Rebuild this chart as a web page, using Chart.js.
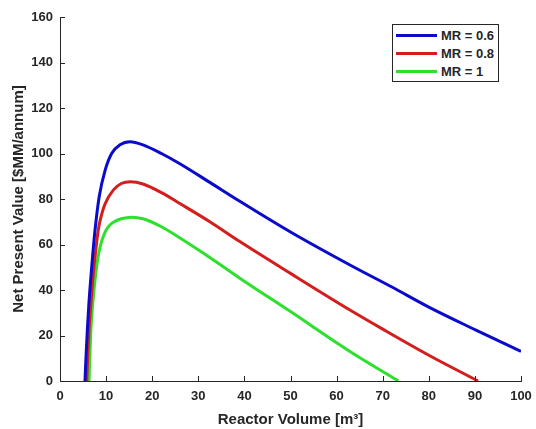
<!DOCTYPE html>
<html>
<head>
<meta charset="utf-8">
<script src="https://cdn.jsdelivr.net/npm/chart.js@4/dist/chart.umd.min.js"></script>
<style>
  html, body { margin: 0; padding: 0; background: #fff; }
  #wrap { position: relative; width: 536px; height: 429px; }
  #legend {
    position: absolute; left: 392px; top: 24px; width: 107px; height: 58px;
    border: 1px solid #262626; background: #fff;
    font: bold 13px "Liberation Sans", Arial, sans-serif; color: #262626;
    box-sizing: border-box; padding-top: 1px;
  }
  .item { display: flex; align-items: center; height: 18.3px; }
  .swatch { width: 41px; height: 3px; margin: 0 4px 0 3px; }
</style>
</head>
<body>
<div id="wrap">
  <canvas id="chart" width="536" height="429"></canvas>
  <div id="legend"></div>
</div>
<script>
const labels = ['MR = 0.6', 'MR = 0.8', 'MR = 1'];
const colors = ['#0a0acc', '#d41e1e', '#2ee02e'];

const blueX = [5.42, 5.65, 5.93, 6.25, 6.65, 7.1, 7.6, 8.5, 9.8, 11.2, 13, 15.2, 18, 22, 26, 32.5, 39, 50, 62.9, 72, 80, 90, 100];
const blueY = [0, 11, 22.4, 33.5, 44.4, 55.5, 66.4, 81, 92.7, 100, 103.8, 105.2, 103.8, 100, 95.5, 87.3, 79, 65.5, 51, 41.3, 32.5, 22.6, 13];

const redX = [5.8, 6.03, 6.3, 6.68, 7.1, 7.65, 8.3, 9, 9.8, 11.6, 13.3, 15.3, 18, 22, 26, 32.5, 39, 50, 62.9, 70, 80.3, 90.7];
const redY = [0, 11.5, 22.4, 33.5, 44.4, 55.5, 66.4, 73, 78, 84, 86.8, 87.6, 86.6, 82.8, 78, 70, 61.3, 47.3, 31.2, 22.8, 11, 0];

const greenX = [6.3, 6.48, 6.7, 7.1, 7.6, 8.1, 8.7, 9.8, 10.7, 11.6, 13.3, 15.6, 18, 22, 26.7, 32.5, 39, 50, 62.9, 73.4];
const greenY = [0, 11.5, 22.4, 34, 44.4, 52.5, 59, 65.6, 68.3, 69.8, 71.3, 72, 71.3, 67.8, 62, 54.3, 45.2, 30.5, 13, 0];

const xTicks = [0, 10, 20, 30, 40, 50, 60, 70, 80, 90, 100];
const yTicks = [0, 20, 40, 60, 80, 100, 120, 140, 160];

const seriesX = [blueX, redX, greenX];
const seriesY = [blueY, redY, greenY];

const axisColor = '#262626';
const fontFam = '"Liberation Sans", Arial, sans-serif';

// small inward ticks like the matlab axes
const innerTicks = {
  id: 'innerTicks',
  afterDraw(chart) {
    const ctx = chart.ctx;
    const xs = chart.scales.x, ys = chart.scales.y;
    ctx.save();
    ctx.strokeStyle = axisColor;
    ctx.lineWidth = 1;
    ctx.beginPath();
    xTicks.forEach(v => {
      const px = Math.round(xs.getPixelForValue(v)) + 0.5;
      ctx.moveTo(px, ys.bottom);
      ctx.lineTo(px, ys.bottom - 5);
    });
    yTicks.forEach(v => {
      const py = Math.round(ys.getPixelForValue(v)) + 0.5;
      ctx.moveTo(xs.left, py);
      ctx.lineTo(xs.left + 5, py);
    });
    ctx.stroke();
    ctx.restore();
  }
};

const datasets = labels.map((lab, i) => ({
  label: lab,
  data: seriesX[i].map((x, j) => ({ x: x, y: seriesY[i][j] })),
  borderColor: colors[i],
  borderWidth: 3,
  pointRadius: 0,
  fill: false,
  cubicInterpolationMode: 'monotone'
}));

new Chart(document.getElementById('chart'), {
  type: 'line',
  data: { datasets },
  options: {
    responsive: false,
    animation: false,
    layout: { padding: { left: 10, right: 15, top: 17, bottom: 0 } },
    plugins: { legend: { display: false }, tooltip: { enabled: false } },
    scales: {
      x: {
        type: 'linear', min: 0, max: 100,
        afterBuildTicks: s => { s.ticks = xTicks.map(v => ({ value: v })); },
        afterFit: s => { s.height = 48; s.paddingLeft = 0; s.paddingRight = 0; },
        grid: { display: false, drawTicks: false },
        border: { display: true, color: axisColor, width: 1 },
        ticks: { color: axisColor, padding: 8, maxRotation: 0, font: { family: fontFam, size: 13, weight: 'bold' } },
        title: { display: true, text: 'Reactor Volume [m³]', color: axisColor, padding: { top: 0, bottom: 0 },
                 font: { family: fontFam, size: 15, weight: 'bold' } }
      },
      y: {
        min: 0, max: 160,
        afterBuildTicks: s => { s.ticks = yTicks.map(v => ({ value: v })); },
        afterFit: s => { s.width = 50; s.paddingTop = 0; s.paddingBottom = 0; },
        grid: { display: false, drawTicks: false },
        border: { display: true, color: axisColor, width: 1 },
        ticks: { color: axisColor, padding: 7, font: { family: fontFam, size: 13, weight: 'bold' } },
        title: { display: true, text: 'Net Present Value [$MM/annum]', color: axisColor, padding: { top: 0, bottom: 0 },
                 font: { family: fontFam, size: 15, weight: 'bold' } }
      }
    }
  },
  plugins: [innerTicks]
});

// legend with a box, top right
const legend = document.getElementById('legend');
labels.forEach((lab, i) => {
  const row = document.createElement('div');
  row.className = 'item';
  row.innerHTML = `<span class="swatch" style="background:${colors[i]}"></span><span>${lab}</span>`;
  legend.appendChild(row);
});
</script>
</body>
</html>
